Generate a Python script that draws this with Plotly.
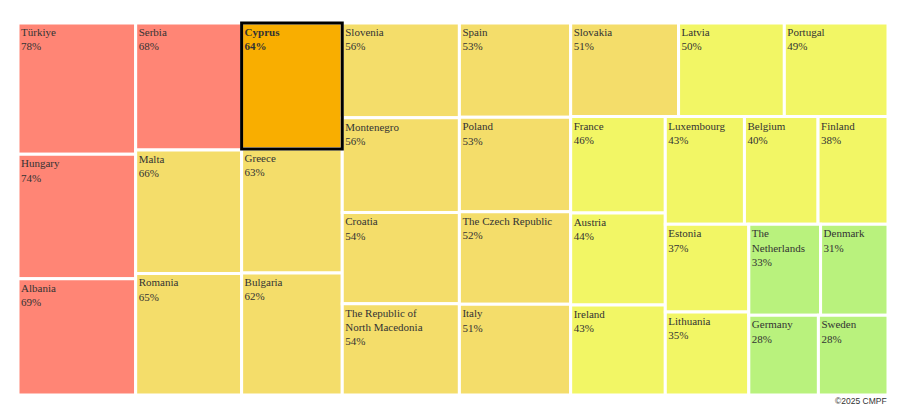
import plotly.graph_objects as go

countries = ["Türkiye", "Hungary", "Albania", "Serbia", "Malta", "Romania", "Cyprus", "Greece",
             "Bulgaria", "Slovenia", "Montenegro", "Croatia", "The Republic of North Macedonia",
             "Spain", "Poland", "The Czech Republic", "Italy", "Slovakia", "Latvia", "Portugal",
             "France", "Austria", "Ireland", "Luxembourg", "Belgium", "Finland", "Estonia",
             "Lithuania", "The Netherlands", "Denmark", "Germany", "Sweden"]
display_names = ["Türkiye", "Hungary", "Albania", "Serbia", "Malta", "Romania", "Cyprus", "Greece",
                 "Bulgaria", "Slovenia", "Montenegro", "Croatia", "The Republic of<br>North Macedonia",
                 "Spain", "Poland", "The Czech Republic", "Italy", "Slovakia", "Latvia", "Portugal",
                 "France", "Austria", "Ireland", "Luxembourg", "Belgium", "Finland", "Estonia",
                 "Lithuania", "The<br>Netherlands", "Denmark", "Germany", "Sweden"]
values = [78, 74, 69, 68, 66, 65, 64, 63, 62, 56, 56, 54, 54, 53, 53, 52, 51, 51, 50, 49,
          46, 44, 43, 43, 40, 38, 37, 35, 33, 31, 28, 28]
highlight = "Cyprus"

C_HIGH = "#FF8575"
C_MED = "#F4DD6A"
C_LOWMED = "#F2F665"
C_LOW = "#B9F27D"
C_SEL = "#F9AE00"

def band_color(name, v):
    if name == highlight:
        return C_SEL
    if v >= 67:
        return C_HIGH
    if v >= 51:
        return C_MED
    if v >= 34:
        return C_LOWMED
    return C_LOW

colors = [band_color(n, v) for n, v in zip(countries, values)]
texts = []
for n, d, v in zip(countries, display_names, values):
    if n == highlight:
        texts.append(f"<b>{d}</b><br><b>{v}%</b>")
    else:
        texts.append(f"{d}<br>{v}%")

SERIF = "Liberation Serif, Times New Roman, serif"
tfont = dict(family=SERIF, size=11, color="#333333")
common = dict(
    labels=countries,
    parents=[""] * len(countries),
    values=values,
    sort=False,
    tiling=dict(packing="squarify", squarifyratio=1, pad=0),
    pathbar=dict(visible=False),
    hoverinfo="skip",
)

# Base treemap: coloured cells with white gaps and labels
base = go.Treemap(
    **common,
    text=texts,
    textinfo="text",
    textposition="top left",
    marker=dict(colors=colors, line=dict(color="#ffffff", width=3), pad=dict(t=0, l=0, r=0, b=0)),
    textfont=tfont,
    insidetextfont=tfont,
)

# Overlay treemap (same layout) drawing only the highlight border on top
overlay = go.Treemap(
    **common,
    text=[""] * len(countries),
    textinfo="text",
    marker=dict(colors=["rgba(0,0,0,0)"] * len(countries),
                line=dict(color=["#000000" if n == highlight else "rgba(0,0,0,0)" for n in countries],
                          width=[3 if n == highlight else 0 for n in countries]),
                pad=dict(t=0, l=0, r=0, b=0)),
)

fig = go.Figure([base, overlay])

fig.update_layout(
    width=901, height=416,
    margin=dict(l=18, r=13, t=23, b=21),
    paper_bgcolor="white",
    plot_bgcolor="white",
    font=dict(family=SERIF, size=11, color="#333333"),
    annotations=[dict(text="©2025 CMPF", x=1, y=0, xref="paper", yref="paper",
                      xanchor="right", yanchor="top", yshift=1, xshift=1, showarrow=False,
                      font=dict(family="Liberation Sans", size=8.5, color="#333333"))],
)

fig.write_html("out.html")
